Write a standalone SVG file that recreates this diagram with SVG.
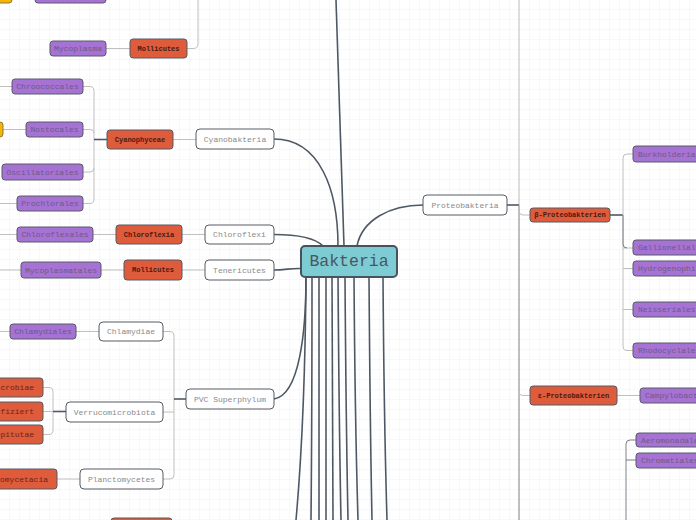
<svg xmlns="http://www.w3.org/2000/svg" width="696" height="520" viewBox="0 0 696 520">
<style>
.bp{fill:#a672d3;stroke:#575d68;stroke-width:1}
.br{fill:#de5b3c;stroke:#555b63;stroke-width:1}
.bw{fill:#fff;stroke:#555b63;stroke-width:1}
.by{fill:#f5b400;stroke:#8a7a40;stroke-width:1}
.tp{font-family:"Liberation Mono",monospace;font-size:8px;fill:#6c5a86}
.tr{font-family:"Liberation Mono",monospace;font-size:7px;font-weight:bold;fill:#4a1c10}
.tr2{font-family:"Liberation Mono",monospace;font-size:8px;fill:#6e2414}
.tw{font-family:"Liberation Mono",monospace;font-size:8px;fill:#8a8a8a}
.lt{fill:none;stroke:#bfbfbf;stroke-width:1}
.md{fill:none;stroke:#7a8088;stroke-width:1}
.dk{fill:none;stroke:#4e5864;stroke-width:1.6}
</style>
<defs>
<pattern id="grid" width="10" height="10" patternUnits="userSpaceOnUse">
<path d="M10,0 V10 M0,10 H10" fill="none" stroke="#f1f1f1" stroke-width="1"/>
</pattern>
</defs>
<rect width="696" height="520" fill="#fff"/>
<rect width="696" height="520" fill="url(#grid)"/>
<g id="connectors">
<path class="lt" d="M106,48.5 H130"/>
<path class="lt" d="M198,0 V44 Q198,48.5 193,48.5 H187"/>
<path class="lt" d="M0,86.5 H12 M3,129.5 H26 M0,203.5 H17 M0,234.5 H17 M0,270 H21 M0,331.5 H10"/>
<path class="lt" d="M83,86.5 H90 Q94,86.5 94,91 V199 Q94,203.5 90,203.5 H83 M83,129.5 H90 Q94,129.5 94,133 M83,172 H90 Q94,172 94,168"/>
<path class="dk" d="M94,139.5 H107"/>
<path class="lt" d="M173,139.5 H196"/>
<path class="lt" d="M93,234.5 H116 M182,234.5 H205"/>
<path class="lt" d="M101,270 H124 M182,270 H205"/>
<path class="lt" d="M76,331.5 H99"/>
<path class="lt" d="M43,387.5 H49 Q53,387.5 53,392 V430 Q53,434.5 49,434.5 H43 M43,411.5 H53"/>
<path class="dk" d="M53,411.5 H66"/>
<path class="lt" d="M57,479 H80"/>
<path class="lt" d="M163,331.5 H170 Q174,331.5 174,336 V475 Q174,479 170,479 H163 M163,412 H174"/>
<path class="dk" d="M174,399 H186"/>
<path class="lt" d="M519,0 V205"/>
<path class="dk" d="M507,205 H519"/>
<path class="md" d="M519,205 V520"/>
<path class="lt" d="M519,206 V211 Q519,215 523,215 H530 M519,391 Q519,395.5 523,395.5 H530"/>
<path class="dk" d="M610,215 H623"/>
<path class="lt" d="M633,154 H627 Q623,154 623,158 V346 Q623,350.5 627,350.5 H633 M623,248 H633 M623,268.5 H633 M623,309.5 H633"/>
<path class="md" d="M623,215 V244 Q623,248 627,248"/>
<path class="lt" d="M617,395.5 H640"/>
<path class="md" d="M636,440 H630 Q626,440 626,444 V520 M626,460 H636"/>
<path class="dk" d="M336,0 Q340,120 344,246"/>
<path class="dk" d="M274,139 C320,139 338,190 338,246"/>
<path class="dk" d="M274,234.5 C300,234.5 315,238 323,246"/>
<path class="dk" d="M274,270 C285,270 292,268 301,268.5"/>
<path class="dk" d="M357,246 C362,220 390,205 423,205"/>
<path class="dk" d="M274,399 C300,395 306,330 306,277"/>
<path class="dk" d="M306,277 Q305,420 296,520"/>
<path class="dk" d="M312,277 Q312,420 311,520"/>
<path class="dk" d="M319,277 V520"/>
<path class="dk" d="M326,277 V520"/>
<path class="dk" d="M332,277 Q332.5,420 333,520"/>
<path class="dk" d="M338,277 Q339,420 341,520"/>
<path class="dk" d="M345,277 Q346,420 348,520"/>
<path class="dk" d="M354,277 Q355,420 358,520"/>
<path class="dk" d="M369,277 Q370,420 372,520"/>
<path class="dk" d="M383,277 Q384,420 387,520"/>
</g>
<g id="n-top-yellow"><rect class="by" x="-10" y="-14" width="22" height="17" rx="3"/></g>
<g id="n-top-purple"><rect class="bp" x="35" y="-14" width="71" height="17" rx="3"/></g>
<g id="n-mycoplasma"><rect class="bp" x="50" y="41" width="56" height="15" rx="3"/><text class="tp" x="78" y="48.5" text-anchor="middle" dominant-baseline="central">Mycoplasma</text></g>
<g id="n-mollicutes1"><rect class="br" x="130" y="39" width="57" height="19" rx="3"/><text class="tr" x="158.5" y="48.5" text-anchor="middle" dominant-baseline="central">Mollicutes</text></g>
<g id="n-chroococcales"><rect class="bp" x="12" y="79" width="71" height="15" rx="3"/><text class="tp" x="47.5" y="86.5" text-anchor="middle" dominant-baseline="central">Chroococcales</text></g>
<g id="n-yellow2"><rect class="by" x="-10" y="122" width="13" height="15" rx="3"/></g>
<g id="n-nostocales"><rect class="bp" x="26" y="122" width="57" height="15" rx="3"/><text class="tp" x="54.5" y="129.5" text-anchor="middle" dominant-baseline="central">Nostocales</text></g>
<g id="n-oscillatoriales"><rect class="bp" x="2" y="164" width="81" height="16" rx="3"/><text class="tp" x="42.5" y="172" text-anchor="middle" dominant-baseline="central">Oscillatoriales</text></g>
<g id="n-prochlorales"><rect class="bp" x="17" y="196" width="66" height="15" rx="3"/><text class="tp" x="50" y="203.5" text-anchor="middle" dominant-baseline="central">Prochlorales</text></g>
<g id="n-cyanophyceae"><rect class="br" x="107" y="130" width="66" height="19" rx="3"/><text class="tr" x="140" y="139.5" text-anchor="middle" dominant-baseline="central">Cyanophyceae</text></g>
<g id="n-cyanobakteria"><rect class="bw" x="196" y="129" width="78" height="20" rx="4"/><text class="tw" x="235" y="139" text-anchor="middle" dominant-baseline="central">Cyanobakteria</text></g>
<g id="n-chloroflexales"><rect class="bp" x="17" y="227" width="76" height="15" rx="3"/><text class="tp" x="55" y="234.5" text-anchor="middle" dominant-baseline="central">Chloroflexales</text></g>
<g id="n-chloroflexia"><rect class="br" x="116" y="225" width="66" height="19" rx="3"/><text class="tr" x="149" y="234.5" text-anchor="middle" dominant-baseline="central">Chloroflexia</text></g>
<g id="n-chloroflexi"><rect class="bw" x="205" y="225" width="69" height="19" rx="4"/><text class="tw" x="239.5" y="234.5" text-anchor="middle" dominant-baseline="central">Chloroflexi</text></g>
<g id="n-mycoplasmatales"><rect class="bp" x="21" y="262" width="80" height="16" rx="3"/><text class="tp" x="61" y="270" text-anchor="middle" dominant-baseline="central">Mycoplasmatales</text></g>
<g id="n-mollicutes2"><rect class="br" x="124" y="260" width="58" height="20" rx="3"/><text class="tr" x="153" y="270" text-anchor="middle" dominant-baseline="central">Mollicutes</text></g>
<g id="n-tenericutes"><rect class="bw" x="205" y="260" width="69" height="20" rx="4"/><text class="tw" x="239.5" y="270" text-anchor="middle" dominant-baseline="central">Tenericutes</text></g>
<g id="n-chlamydiales"><rect class="bp" x="10" y="324" width="66" height="15" rx="3"/><text class="tp" x="43" y="331.5" text-anchor="middle" dominant-baseline="central">Chlamydiales</text></g>
<g id="n-chlamydiae"><rect class="bw" x="99" y="322" width="64" height="19" rx="4"/><text class="tw" x="131" y="331.5" text-anchor="middle" dominant-baseline="central">Chlamydiae</text></g>
<g id="n-verrucomicrobiae"><rect class="br" x="-50" y="378" width="93" height="19" rx="3"/><text class="tr2" x="34" y="387.5" text-anchor="end" dominant-baseline="central">Verrucomicrobiae</text></g>
<g id="n-unklassifiziert"><rect class="br" x="-50" y="402" width="93" height="19" rx="3"/><text class="tr2" x="34" y="411.5" text-anchor="end" dominant-baseline="central">Unklassifiziert</text></g>
<g id="n-opitutae"><rect class="br" x="-50" y="425" width="93" height="19" rx="3"/><text class="tr2" x="34" y="434.5" text-anchor="end" dominant-baseline="central">Opitutae</text></g>
<g id="n-verrucomicrobiota"><rect class="bw" x="66" y="402" width="97" height="20" rx="4"/><text class="tw" x="114.5" y="412" text-anchor="middle" dominant-baseline="central">Verrucomicrobiota</text></g>
<g id="n-planctomycetacia"><rect class="br" x="-40" y="469" width="97" height="20" rx="3"/><text class="tr2" x="48" y="479" text-anchor="end" dominant-baseline="central">Planctomycetacia</text></g>
<g id="n-planctomycetes"><rect class="bw" x="80" y="469" width="83" height="20" rx="4"/><text class="tw" x="121.5" y="479" text-anchor="middle" dominant-baseline="central">Planctomycetes</text></g>
<g id="n-pvc"><rect class="bw" x="186" y="389" width="88" height="20" rx="4"/><text class="tw" x="230" y="399" text-anchor="middle" dominant-baseline="central">PVC Superphylum</text></g>
<g id="n-bottom-red"><rect class="br" x="111" y="518" width="61" height="20" rx="3"/></g>
<g id="n-bakteria"><rect x="301" y="246" width="96" height="31" rx="4" fill="#7dcbd3" stroke="#46525d" stroke-width="2"/><text x="349" y="261.5" text-anchor="middle" dominant-baseline="central" font-family="Liberation Mono, monospace" font-size="16.5" fill="#4a5661">Bakteria</text></g>
<g id="n-proteobakteria"><rect class="bw" x="423" y="195" width="84" height="20" rx="4"/><text class="tw" x="465" y="205" text-anchor="middle" dominant-baseline="central">Proteobakteria</text></g>
<g id="n-beta"><rect class="br" x="530" y="208" width="80" height="14" rx="3"/><text class="tr" x="570" y="215" text-anchor="middle" dominant-baseline="central">β-Proteobakterien</text></g>
<g id="n-burkholderiales"><rect class="bp" x="633" y="146" width="90" height="16" rx="3"/><text class="tp" x="638" y="154" dominant-baseline="central">Burkholderiales</text></g>
<g id="n-gallionellales"><rect class="bp" x="633" y="240" width="90" height="15" rx="3"/><text class="tp" x="638" y="247.5" dominant-baseline="central">Gallionellales</text></g>
<g id="n-hydrogenophilales"><rect class="bp" x="633" y="261" width="100" height="15" rx="3"/><text class="tp" x="638" y="268.5" dominant-baseline="central">Hydrogenophilales</text></g>
<g id="n-neisseriales"><rect class="bp" x="633" y="302" width="70" height="15" rx="3"/><text class="tp" x="638" y="309.5" dominant-baseline="central">Neisseriales</text></g>
<g id="n-rhodocyclales"><rect class="bp" x="633" y="343" width="75" height="15" rx="3"/><text class="tp" x="638" y="350.5" dominant-baseline="central">Rhodocyclales</text></g>
<g id="n-epsilon"><rect class="br" x="530" y="386" width="87" height="19" rx="3"/><text class="tr" x="573.5" y="395.5" text-anchor="middle" dominant-baseline="central">ε-Proteobakterien</text></g>
<g id="n-campylobacterales"><rect class="bp" x="640" y="388" width="95" height="15" rx="3"/><text class="tp" x="645" y="395.5" dominant-baseline="central">Campylobacterales</text></g>
<g id="n-aeromonadales"><rect class="bp" x="636" y="433" width="80" height="14" rx="3"/><text class="tp" x="641" y="440" dominant-baseline="central">Aeromonadales</text></g>
<g id="n-chromatiales"><rect class="bp" x="636" y="453" width="75" height="15" rx="3"/><text class="tp" x="641" y="460.5" dominant-baseline="central">Chromatiales</text></g>
</svg>
